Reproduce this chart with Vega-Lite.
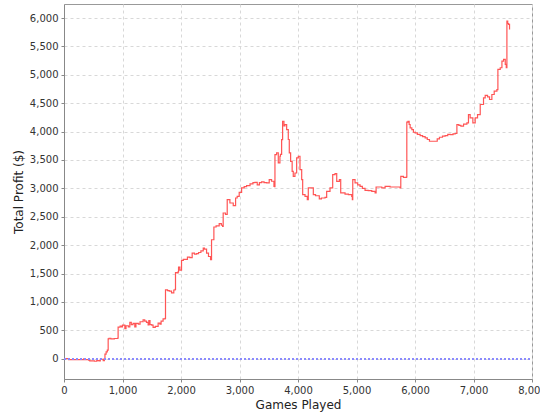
{
  "$schema": "https://vega.github.io/schema/vega-lite/v6.json",
  "autosize": "none",
  "width": 468,
  "height": 375,
  "padding": {"left": 64, "top": 4, "right": 8, "bottom": 41},
  "background": "white",
  "config": {
    "view": {"stroke": "#999999", "strokeWidth": 1},
    "font": "DejaVu Sans",
    "axis": {
      "labelFont": "DejaVu Sans", "labelFontSize": 10, "labelColor": "#333333", "labelOverlap": false, "labelFlush": false,
      "titleFont": "DejaVu Sans", "titleFontSize": 12, "titleFontWeight": "normal", "titleColor": "#222222",
      "domainColor": "#888888", "tickColor": "#888888", "tickSize": 3,
      "grid": true, "gridColor": "#d8d8d8", "gridDash": [3, 3], "gridWidth": 1
    }
  },
  "data": {"values": [
    {"games":0,"profit":0},{"games":60,"profit":0},{"games":80,"profit":-15},{"games":200,"profit":-15},{"games":330,"profit":-15},{"games":340,"profit":0},{"games":350,"profit":-15},{"games":420,"profit":-25},{"games":440,"profit":-40},{"games":520,"profit":-45},{"games":560,"profit":-35},{"games":600,"profit":-40},{"games":620,"profit":-10},{"games":650,"profit":-10},{"games":670,"profit":-35},{"games":690,"profit":0},{"games":700,"profit":80},{"games":720,"profit":120},{"games":740,"profit":150},{"games":755,"profit":350},{"games":770,"profit":360},{"games":800,"profit":350},{"games":860,"profit":355},{"games":915,"profit":360},{"games":925,"profit":555},{"games":960,"profit":575},{"games":985,"profit":560},{"games":1000,"profit":590},{"games":1040,"profit":530},{"games":1060,"profit":580},{"games":1100,"profit":560},{"games":1125,"profit":640},{"games":1150,"profit":600},{"games":1180,"profit":620},{"games":1210,"profit":560},{"games":1230,"profit":620},{"games":1270,"profit":610},{"games":1300,"profit":650},{"games":1352,"profit":683},{"games":1380,"profit":660},{"games":1410,"profit":640},{"games":1438,"profit":595},{"games":1450,"profit":670},{"games":1470,"profit":600},{"games":1500,"profit":590},{"games":1523,"profit":550},{"games":1560,"profit":570},{"games":1609,"profit":625},{"games":1640,"profit":610},{"games":1660,"profit":660},{"games":1694,"profit":700},{"games":1730,"profit":710},{"games":1735,"profit":1212},{"games":1770,"profit":1200},{"games":1800,"profit":1190},{"games":1838,"profit":1160},{"games":1877,"profit":1210},{"games":1900,"profit":1220},{"games":1906,"profit":1518},{"games":1930,"profit":1510},{"games":1950,"profit":1530},{"games":1958,"profit":1612},{"games":1980,"profit":1560},{"games":2009,"profit":1730},{"games":2040,"profit":1750},{"games":2066,"profit":1750},{"games":2110,"profit":1790},{"games":2151,"profit":1780},{"games":2191,"profit":1860},{"games":2230,"profit":1840},{"games":2266,"profit":1850},{"games":2300,"profit":1870},{"games":2340,"profit":1900},{"games":2380,"profit":1948},{"games":2400,"profit":1930},{"games":2437,"profit":1860},{"games":2470,"profit":1800},{"games":2505,"profit":1742},{"games":2522,"profit":2095},{"games":2562,"profit":2319},{"games":2600,"profit":2340},{"games":2653,"profit":2377},{"games":2690,"profit":2350},{"games":2711,"profit":2330},{"games":2721,"profit":2566},{"games":2760,"profit":2540},{"games":2790,"profit":2800},{"games":2836,"profit":2742},{"games":2893,"profit":2695},{"games":2933,"profit":2830},{"games":2960,"profit":2860},{"games":2995,"profit":2930},{"games":3036,"profit":3007},{"games":3080,"profit":3030},{"games":3121,"profit":3048},{"games":3180,"profit":3080},{"games":3230,"profit":3100},{"games":3264,"profit":3106},{"games":3303,"profit":3060},{"games":3340,"profit":3100},{"games":3378,"profit":3113},{"games":3420,"profit":3100},{"games":3464,"profit":3095},{"games":3508,"profit":3153},{"games":3548,"profit":3125},{"games":3589,"profit":3035},{"games":3600,"profit":3030},{"games":3606,"profit":3595},{"games":3634,"profit":3625},{"games":3663,"profit":3448},{"games":3691,"profit":3565},{"games":3700,"profit":3600},{"games":3720,"profit":3859},{"games":3737,"profit":4182},{"games":3760,"profit":4100},{"games":3777,"profit":4125},{"games":3806,"profit":4036},{"games":3834,"profit":3860},{"games":3851,"profit":3625},{"games":3874,"profit":3476},{"games":3900,"profit":3300},{"games":3919,"profit":3212},{"games":3948,"profit":3270},{"games":3977,"profit":3536},{"games":4005,"profit":3565},{"games":4034,"profit":3330},{"games":4063,"profit":3153},{"games":4080,"profit":2889},{"games":4120,"profit":2860},{"games":4159,"profit":2800},{"games":4176,"profit":3007},{"games":4233,"profit":3007},{"games":4262,"profit":2889},{"games":4300,"profit":2870},{"games":4364,"profit":2813},{"games":4400,"profit":2830},{"games":4462,"profit":2840},{"games":4490,"profit":2948},{"games":4547,"profit":3007},{"games":4593,"profit":3242},{"games":4633,"profit":3260},{"games":4662,"profit":3124},{"games":4707,"profit":3153},{"games":4730,"profit":2919},{"games":4804,"profit":2900},{"games":4861,"profit":2889},{"games":4918,"profit":2860},{"games":4929,"profit":2800},{"games":4936,"profit":3153},{"games":4975,"profit":3095},{"games":5020,"profit":3060},{"games":5061,"profit":3035},{"games":5100,"profit":3000},{"games":5146,"profit":2965},{"games":5200,"profit":2960},{"games":5261,"profit":2948},{"games":5318,"profit":2919},{"games":5335,"profit":3024},{"games":5432,"profit":3007},{"games":5489,"profit":3035},{"games":5574,"profit":3024},{"games":5677,"profit":3024},{"games":5745,"profit":3007},{"games":5757,"profit":3212},{"games":5802,"profit":3195},{"games":5855,"profit":3200},{"games":5860,"profit":4165},{"games":5880,"profit":4182},{"games":5900,"profit":4125},{"games":5917,"profit":4066},{"games":5946,"profit":4036},{"games":5973,"profit":3988},{"games":6002,"profit":3977},{"games":6040,"profit":3950},{"games":6088,"profit":3930},{"games":6130,"profit":3910},{"games":6173,"profit":3889},{"games":6210,"profit":3860},{"games":6247,"profit":3830},{"games":6300,"profit":3830},{"games":6344,"profit":3830},{"games":6380,"profit":3870},{"games":6418,"profit":3900},{"games":6470,"profit":3920},{"games":6515,"profit":3930},{"games":6560,"profit":3950},{"games":6601,"profit":3948},{"games":6650,"profit":3960},{"games":6687,"profit":3966},{"games":6716,"profit":4124},{"games":6750,"profit":4110},{"games":6784,"profit":4095},{"games":6830,"profit":4130},{"games":6887,"profit":4154},{"games":6914,"profit":4300},{"games":6943,"profit":4240},{"games":6989,"profit":4154},{"games":7029,"profit":4240},{"games":7069,"profit":4300},{"games":7115,"profit":4477},{"games":7171,"profit":4595},{"games":7200,"profit":4636},{"games":7240,"profit":4610},{"games":7274,"profit":4565},{"games":7314,"profit":4653},{"games":7354,"profit":4712},{"games":7400,"profit":4740},{"games":7417,"profit":5095},{"games":7457,"profit":5124},{"games":7486,"profit":5241},{"games":7514,"profit":5270},{"games":7543,"profit":5183},{"games":7560,"profit":5124},{"games":7571,"profit":5947},{"games":7585,"profit":5900},{"games":7600,"profit":5888},{"games":7616,"profit":5800}
  ]},
  "encoding": {
    "x": {
      "field": "games", "type": "quantitative", "title": "Games Played",
      "scale": {"domain": [0, 8000], "nice": false, "zero": false},
      "axis": {"values": [0,1000,2000,3000,4000,5000,6000,7000,8000], "format": ",d", "titlePadding": 4, "labelPadding": 3, "grid": true}
    },
    "y": {
      "field": "profit", "type": "quantitative", "title": "Total Profit ($)",
      "scale": {"domain": [-358, 6247], "nice": false, "zero": false},
      "axis": {"values": [0,500,1000,1500,2000,2500,3000,3500,4000,4500,5000,5500,6000], "format": ",d", "titlePadding": 4, "labelPadding": 3, "grid": true}
    }
  },
  "layer": [
    {
      "mark": {"type": "line", "color": "#ff5555", "strokeWidth": 1.2, "interpolate": "step-after"}
    },
    {
      "mark": {"type": "rule", "color": "#8a8aff", "strokeDash": [2, 2], "strokeWidth": 1},
      "encoding": {"y": {"datum": 0, "type": "quantitative"}, "x": {"value": 0}, "x2": {"value": 468}}
    }
  ]
}
